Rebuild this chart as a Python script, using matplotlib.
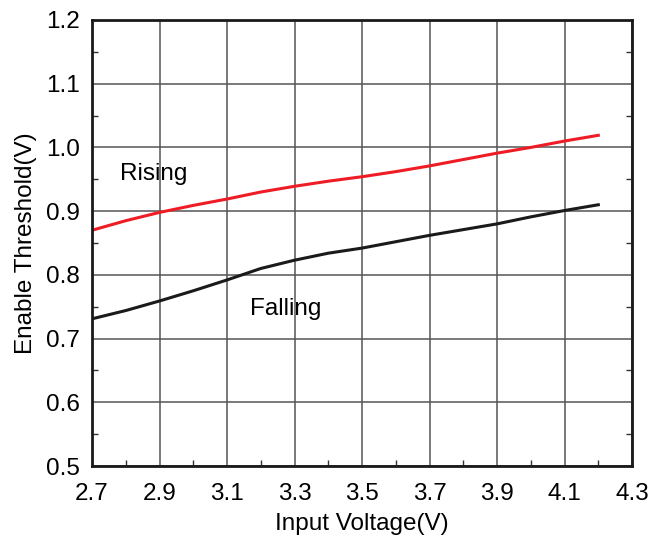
import matplotlib.pyplot as plt

plt.rcParams['font.family'] = ['Liberation Sans', 'DejaVu Sans']

# input voltage (V)
vin = [2.7, 2.8, 2.9, 3.0, 3.1, 3.2, 3.3, 3.4, 3.5, 3.6, 3.7, 3.8, 3.9, 4.0, 4.1, 4.2]
# enable threshold, rising and falling (V)
rising = [0.870, 0.885, 0.898, 0.909, 0.919, 0.930, 0.939, 0.947, 0.954, 0.962, 0.971, 0.981, 0.991, 1.000, 1.010, 1.019]
falling = [0.731, 0.744, 0.759, 0.775, 0.792, 0.810, 0.823, 0.834, 0.842, 0.852, 0.862, 0.871, 0.880, 0.891, 0.901, 0.910]

xticks = [2.7, 2.9, 3.1, 3.3, 3.5, 3.7, 3.9, 4.1, 4.3]
xminor = [2.8, 3.0, 3.2, 3.4, 3.6, 3.8, 4.0, 4.2]
yticks = [0.5, 0.6, 0.7, 0.8, 0.9, 1.0, 1.1, 1.2]
yminor = [0.55, 0.65, 0.75, 0.85, 0.95, 1.05, 1.15]

fig = plt.figure(figsize=(6.64, 5.43), dpi=100)
ax = fig.add_axes([0.1386, 0.1418, 0.8133, 0.8214])

ax.plot(vin, rising, color='#ee1c25', lw=2.2)
ax.plot(vin, falling, color='#1a1a1a', lw=2.2)

ax.text(2.782, 0.958, 'Rising', fontsize=17.5, va='center')
ax.text(3.168, 0.746, 'Falling', fontsize=17.5, va='center')

ax.set_xlim(2.7, 4.3)
ax.set_ylim(0.5, 1.2)
ax.set_xticks(xticks, [f'{v:.1f}' for v in xticks])
ax.set_yticks(yticks, [f'{v:.1f}' for v in yticks])
ax.set_xticks(xminor, minor=True)
ax.set_yticks(yminor, minor=True)

ax.grid(True, which='major', color='#555555', lw=1.1)
ax.tick_params(which='major', length=0, labelsize=17.5)
ax.tick_params(axis='x', which='major', pad=12)
ax.tick_params(axis='y', which='major', pad=9)
ax.tick_params(which='minor', direction='in', length=4, width=1, right=True, color='#333333')
for s in ax.spines.values():
    s.set_linewidth(2)
    s.set_color('#1a1a1a')

ax.set_xlabel('Input Voltage(V)', fontsize=17.5, labelpad=6)
ax.set_ylabel('Enable Threshold(V)', fontsize=17.5, labelpad=6)

fig.savefig('out.png', dpi=100)
